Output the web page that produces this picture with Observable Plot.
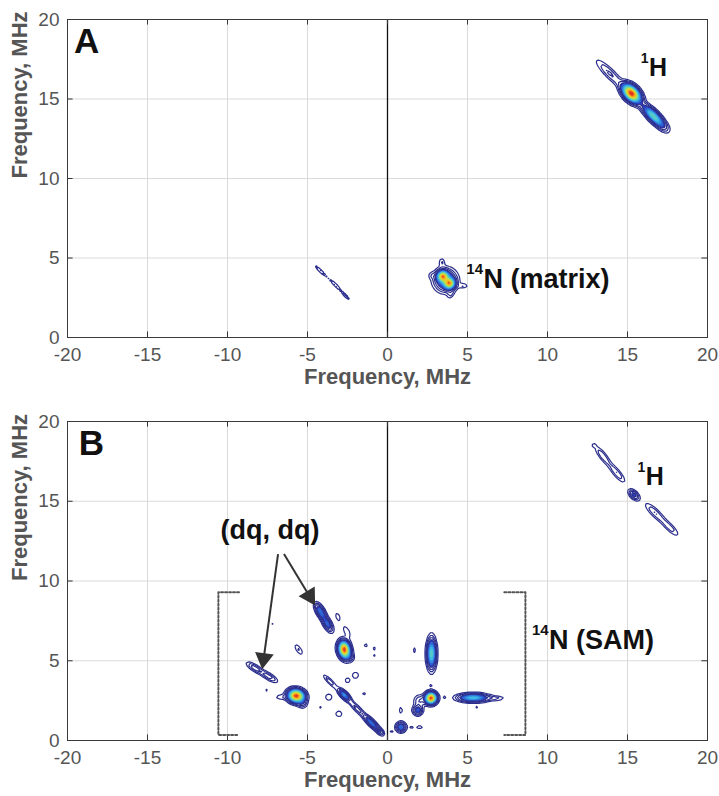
<!DOCTYPE html>
<html><head><meta charset="utf-8">
<script src="https://cdn.jsdelivr.net/npm/d3@7"></script>
<script src="https://cdn.jsdelivr.net/npm/@observablehq/plot@0.6"></script>
<style>
body{margin:0;background:#fff;}
#chart{width:719px;}
#chart svg{display:block;}
</style></head><body><div id="chart"></div>
<script>
// ---------- axis ticks ----------
const xTicks = [-20, -15, -10, -5, 0, 5, 10, 15, 20];
const yTicks = [0, 5, 10, 15, 20];
const axisTitle = "Frequency, MHz";

// ---------- Panel A peaks (centre x, centre y, amplitude, width along, width across, angle deg) ----------
const aPeakX   = [15.25, 16.6, 13.9, 17.15, -4.2, -3.25, -2.6, 3.45, 3.87, 3.62, 3.4, 4.75, 3.95, 2.75];
const aPeakY   = [15.35, 13.95, 16.6, 13.35, 4.2, 3.3, 2.6, 3.85, 3.4, 3.6, 4.75, 3.25, 2.7, 3.9];
const aPeakAmp = [1.0, 0.5, 0.13, 0.1, 0.085, 0.085, 0.08, 0.7, 0.7, 0.32, 0.08, 0.08, 0.07, 0.05];
const aPeakSa  = [0.42, 0.55, 0.8, 0.4, 0.45, 0.4, 0.3, 0.2, 0.2, 0.45, 0.18, 0.2, 0.18, 0.15];
const aPeakSb  = [0.26, 0.2, 0.2, 0.2, 0.07, 0.07, 0.07, 0.2, 0.2, 0.45, 0.12, 0.1, 0.12, 0.15];
const aPeakAng = [-45, -45, -45, -45, -45, -45, -45, 0, 0, 0, 90, 0, 60, 0];

// ---------- Panel B peaks ----------
const bPeakX   = [13.45, 14.35, 12.9, 15.4, 16.7, 17.65,
  -4.2, -3.75, -3.1, -2.55, -1.36, -0.84, -0.84,
  -2.7, -2.35, -5.55, -8.3, -7.4, -7.2,
  -5.7, -5.3, -7.55, -6.7,
  -3.6, -2.7, -1.9, -1.0, -0.45,
  -2.5, -2.0, -3.67, -4.2, -3.04, -1.47,
  2.75, 1.68, 2.72, 2.72, 2.0, 1.89, 3.56, 3.5, 5.35, 6.8, 5.6, 0.84, 0.84, 2.0, 1.5, 0.25];
const bPeakY   = [17.85, 16.75, 18.5, 15.4, 14.3, 13.35,
  8.1, 7.3, 7.75, 6.85, 5.97, 5.76, 5.35,
  5.7, 5.2, 5.7, 4.55, 4.0, 7.3,
  2.8, 2.3, 3.14, 2.72,
  3.7, 2.85, 2.0, 1.1, 0.55,
  3.77, 4.09, 2.72, 2.1, 1.67, 2.93,
  5.45, 5.66, 3.46, 2.66, 2.5, 1.89, 2.72, 1.93, 2.68, 2.65, 2.1, 0.84, 1.89, 0.84, 0.84, 0.55];
const bPeakAmp = [0.12, 0.12, 0.06, 0.22, 0.12, 0.11,
  0.3, 0.26, 0.07, 0.07, 0.06, 0.06, 0.06,
  1.0, 0.1, 0.09, 0.15, 0.15, 0.06,
  1.0, 0.1, 0.06, 0.07,
  0.12, 0.35, 0.15, 0.3, 0.15,
  0.07, 0.07, 0.08, 0.06, 0.07, 0.06,
  0.5, 0.06, 0.06, 1.0, 0.12, 0.25, 0.06, 0.06, 0.45, 0.08, 0.06, 0.3, 0.07, 0.07, 0.06, 0.06];
const bPeakSa  = [0.5, 0.5, 0.1, 0.26, 0.55, 0.5,
  0.35, 0.35, 0.25, 0.35, 0.15, 0.12, 0.1,
  0.33, 0.2, 0.3, 0.4, 0.4, 0.06,
  0.32, 0.2, 0.1, 0.25,
  0.4, 0.3, 0.45, 0.4, 0.2,
  0.15, 0.2, 0.18, 0.1, 0.2, 0.12,
  0.6, 0.2, 0.1, 0.22, 0.25, 0.2, 0.1, 0.08, 0.6, 0.4, 0.1, 0.2, 0.2, 0.2, 0.1, 0.1];
const bPeakSb  = [0.15, 0.15, 0.08, 0.15, 0.17, 0.15,
  0.16, 0.16, 0.12, 0.15, 0.12, 0.12, 0.1,
  0.22, 0.2, 0.12, 0.14, 0.14, 0.06,
  0.25, 0.2, 0.1, 0.12,
  0.1, 0.13, 0.12, 0.13, 0.12,
  0.15, 0.2, 0.18, 0.1, 0.18, 0.12,
  0.18, 0.1, 0.1, 0.22, 0.25, 0.2, 0.1, 0.08, 0.16, 0.1, 0.1, 0.2, 0.1, 0.1, 0.1, 0.1];
const bPeakAng = [-52, -50, 0, -45, -44, -44,
  -61, -61, -70, -60, -80, 0, 0,
  -80, 0, -55, -32, -32, 0,
  -10, 0, 0, 0,
  -45, -45, -45, -45, -45,
  0, 0, 0, 0, 0, 0,
  90, 90, 0, 0, 0, 0, 0, 0, 0, 0, 0, 0, 90, 0, 0, 0];

// ---------- contour levels and colours ----------
const lineLevels = [0.045, 0.08, 0.12, 0.17];
const fillLevels = [0.17, 0.23, 0.3, 0.37, 0.44, 0.52, 0.6, 0.68, 0.76, 0.84, 0.91];
const colorStops = [0.17, 0.27, 0.38, 0.5, 0.62, 0.74, 0.85, 0.93];
const colorRange = ["#2b3fbf", "#2f7fe0", "#40c0e8", "#6fd8a0", "#c8e040", "#f8c820", "#f57a20", "#e0201a"];

// ---------- annotations ----------
const bracketLeftX  = [-9.28, -10.57, -10.57, -9.28];
const bracketRightX = [7.3, 8.62, 8.62, 7.3];
const bracketY      = [9.29, 9.29, 0.35, 0.35];
const arrowX1 = [-6.84, -6.47], arrowY1 = [11.69, 11.69];
const arrowX2 = [-7.79, -4.68], arrowY2 = [4.76, 8.73];

const FONT = '"Liberation Sans", Arial, Helvetica, sans-serif';
const TEXTC = "#111";

function makeField(X, Y, A, SA, SB, ANG) {
  const P = X.map((x, i) => {
    const t = ANG[i] * Math.PI / 180;
    return {x, y: Y[i], a: A[i], ka: 1 / (2 * SA[i] * SA[i]), kb: 1 / (2 * SB[i] * SB[i]), c: Math.cos(t), s: Math.sin(t)};
  });
  return (x, y) => {
    let v = 0;
    for (const p of P) {
      const dx = x - p.x, dy = y - p.y;
      const u = dx * p.c + dy * p.s, w = -dx * p.s + dy * p.c;
      const e = u * u * p.ka + w * w * p.kb;
      if (e < 25) v += p.a * Math.exp(-e);
    }
    return v;
  };
}

function label(x, y, text, o = {}) {
  return Plot.text([{x, y, text}], {x: "x", y: "y", text: "text", fontWeight: "bold", fill: TEXTC, fontFamily: FONT, ...o});
}
function supLabel(x, y, sup, main, size) {
  return [
    label(x, y, sup, {fontSize: Math.round(size * 0.56), textAnchor: "end", dy: -size * 0.38, dx: -0.5}),
    label(x, y, main, {fontSize: size, textAnchor: "start"})
  ];
}

function panel(o) {
  const f = makeField(...o.peaks);
  const ext = {x1: -20, x2: 20, y1: 0, y2: 20};
  return Plot.plot({
    width: 719, height: o.height,
    marginTop: o.mt, marginBottom: o.mb, marginLeft: 67, marginRight: 12,
    x: {domain: [-20, 20]}, y: {domain: [0, 20]},
    color: {type: "linear", domain: colorStops, range: colorRange, interpolate: "rgb"},
    style: {fontFamily: FONT, background: "#fff", overflow: "visible"},
    marks: [
      Plot.gridX(xTicks, {stroke: "#dadada", strokeOpacity: 1}),
      Plot.gridY(yTicks, {stroke: "#dadada", strokeOpacity: 1}),
      Plot.contour({...ext, fill: f, thresholds: fillLevels}),
      Plot.contour({...ext, value: f, thresholds: lineLevels, fill: "none", stroke: "#2b2e8c", strokeWidth: 1.2}),
      Plot.ruleX([0], {stroke: "#111", strokeWidth: 1.3}),
      Plot.ruleX(xTicks, {y1: 0, y2: 0.35, stroke: "#333"}),
      Plot.ruleX(xTicks, {y1: 20, y2: 19.65, stroke: "#333"}),
      Plot.ruleY(yTicks, {x1: -20, x2: -19.65, stroke: "#333"}),
      Plot.ruleY(yTicks, {x1: 20, x2: 19.65, stroke: "#333"}),
      Plot.frame({stroke: "#3a3a3a"}),
      Plot.axisX(xTicks, {tickSize: 0, tickPadding: 10, fontSize: 19, fill: "#555", label: null, tickFormat: d => String(d)}),
      Plot.axisY(yTicks, {tickSize: 0, tickPadding: 8, fontSize: 19, fill: "#555", label: null, tickFormat: d => String(d)}),
      Plot.text([axisTitle], {text: d => d, frameAnchor: "bottom", dy: 46, fontSize: 22, fontWeight: "bold", fill: "#555"}),
      Plot.text([axisTitle], {text: d => d, frameAnchor: "left", rotate: -90, dx: -48, fontSize: 22, fontWeight: "bold", fill: "#555"}),
      ...o.extra
    ]
  });
}

const chart = document.getElementById("chart");

chart.append(panel({
  height: 400, mt: 19, mb: 63,
  peaks: [aPeakX, aPeakY, aPeakAmp, aPeakSa, aPeakSb, aPeakAng],
  extra: [
    label(-18.8, 18.6, "A", {fontSize: 35, textAnchor: "middle"}),
    ...supLabel(16.35, 16.93, "1", "H", 25),
    ...supLabel(6.0, 3.67, "14", "N (matrix)", 27)
  ]
}));

const heads = arrowX1.map((x1, i) => {
  const dx = arrowX2[i] - x1, dy = arrowY2[i] - arrowY1[i];
  const L = Math.hypot(dx, dy);
  return {x: arrowX2[i] - dx / L * 0.38, y: arrowY2[i] - dy / L * 0.38, rot: Math.atan2(dx, dy) * 180 / Math.PI,
          lx: arrowX2[i] - dx / L * 0.5, ly: arrowY2[i] - dy / L * 0.5, x1, y1: arrowY1[i]};
});

chart.append(panel({
  height: 396, mt: 21, mb: 56,
  peaks: [bPeakX, bPeakY, bPeakAmp, bPeakSa, bPeakSb, bPeakAng],
  extra: [
    Plot.line(bracketLeftX.map((x, i) => ({x, y: bracketY[i]})), {x: "x", y: "y", stroke: "#555", strokeWidth: 2, strokeDasharray: "2,2"}),
    Plot.line(bracketRightX.map((x, i) => ({x, y: bracketY[i]})), {x: "x", y: "y", stroke: "#555", strokeWidth: 2, strokeDasharray: "2,2"}),
    Plot.link(heads, {x1: "x1", y1: "y1", x2: "lx", y2: "ly", stroke: "#333", strokeWidth: 2}),
    Plot.dot(heads, {x: "x", y: "y", symbol: "triangle", rotate: "rot", r: 7, fill: "#333", stroke: "none"}),
    label(-18.5, 18.6, "B", {fontSize: 35, textAnchor: "middle"}),
    label(-7.34, 13.15, "(dq, dq)", {fontSize: 27, textAnchor: "middle"}),
    ...supLabel(16.14, 16.54, "1", "H", 25),
    ...supLabel(10.1, 6.26, "14", "N (SAM)", 27)
  ]
}));
</script>
</body></html>
